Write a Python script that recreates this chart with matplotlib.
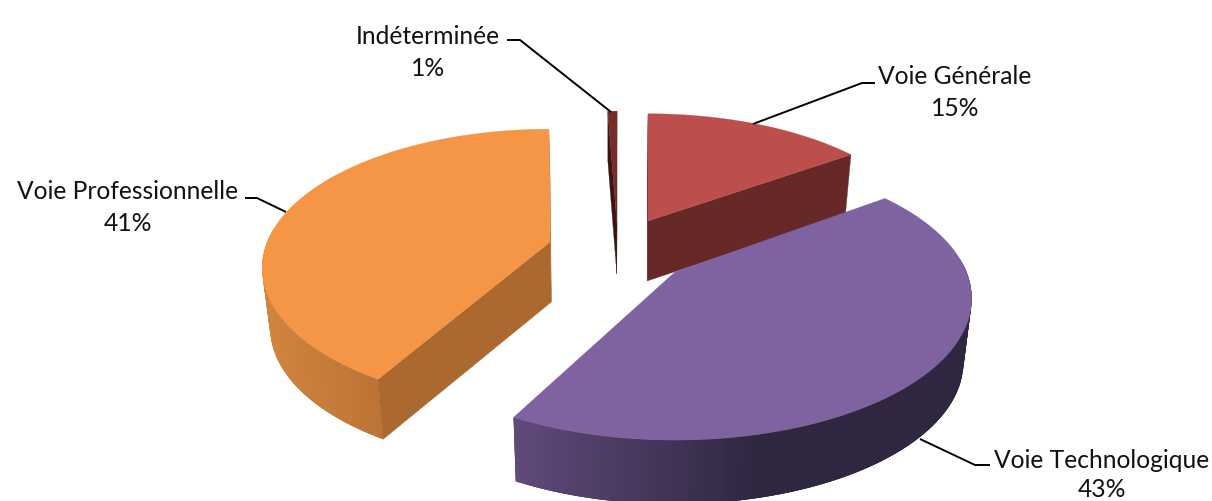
import numpy as np
import matplotlib
matplotlib.use("Agg")
import matplotlib.pyplot as plt
from matplotlib.colors import to_rgb
from matplotlib.patches import Polygon

# --- data -------------------------------------------------------------
categories = ["Voie Générale", "Voie Technologique", "Voie Professionnelle", "Indéterminée"]
shares = [15.2, 43.0, 41.2, 0.6]
percent_labels = ["15%", "43%", "41%", "1%"]

# --- style / layout ---------------------------------------------------
top_colors = ["#BC4F4B", "#7F62A0", "#F49645", "#782C2A"]
cut_colors = ["#662928", "#32273F", "#AB692F", "#3A1514"]
side_light = ["#662928", "#604A7B", "#D0863F", "#3A1514"]
side_dark = ["#662928", "#2F2640", "#BC7235", "#3A1514"]
side_range = [(0, 1), (513, 760), (262, 383), (0, 1)]
apexes = [(648, 222), (675, 273), (550, 243), (617, 225)]
scale_x = [0.95, 1.005, 0.975, 1.0]
scale_y = [0.95, 1.02, 1.0, 1.0]
depths = [60, 64, 60, 50]
angle_nudge = [(0, 0), (-1.5, -2.0), (1.2, 1.9), (0, 0)]
show_cut = [(True, True), (False, False), (True, True), (True, True)]
label_xy = [(955, 77), (1102, 461), (128, 192), (428, 36)]
label_gaps = [32, 29, 32, 32]
leaders = [
    [(753, 125), (862, 84), (875, 84)],
    [(920, 440), (975, 466), (990, 466)],
    [(286, 213), (257, 199), (245, 199)],
    [(611, 113), (520, 41), (507, 41)],
]
RX, RY, PERSP, VANISH_X, SHRINK = 290, 134, 0.187, 610, 0.977

fig = plt.figure(figsize=(12.12, 5.02), dpi=100)
ax = fig.add_axes([0, 0, 1, 1])
ax.set_xlim(0, 1212)
ax.set_ylim(502, 0)
ax.axis("off")


def project(apex, theta, sx, sy):
    """Perspective projection of the rim point at clockwise angle theta."""
    w = 1 + PERSP * np.cos(theta)
    return apex[0] + sx * RX * np.sin(theta) / w, apex[1] - sy * RY * np.cos(theta) / w


def lower(x, y, depth):
    return VANISH_X + (np.asarray(x) - VANISH_X) * SHRINK, np.asarray(y) + depth


def poly(xs, ys, color, z, lw=0.0):
    ax.add_patch(Polygon(np.column_stack([xs, ys]), closed=True, facecolor=color,
                         edgecolor=color, linewidth=lw, zorder=z))


edges = 2 * np.pi * np.concatenate([[0], np.cumsum(shares)]) / np.sum(shares)
order = [3, 0, 2, 1]
for z, i in enumerate(order):
    base = z * 10
    apex = apexes[i]
    t0 = edges[i] + np.radians(angle_nudge[i][0])
    t1 = edges[i + 1] + np.radians(angle_nudge[i][1])
    t = np.linspace(t0, t1, 140)
    x, y = project(apex, t, scale_x[i], scale_y[i])
    xb, yb = lower(x, y, depths[i])
    # rim: each quad overlaps the next so no seams show
    lo, hi = side_range[i]
    c0, c1 = np.array(to_rgb(side_light[i])), np.array(to_rgb(side_dark[i]))
    idx = list(range(len(t) - 1))
    if x[0] < x[-1]:
        idx = idx[::-1]
    for k in idx:
        if np.cos(t[k]) > 0.1:
            continue
        e = min(k + 3, len(t) - 1) if x[0] > x[-1] else k + 1
        s = k if x[0] > x[-1] else max(k - 2, 0)
        f = np.clip((0.5 * (x[k] + x[k + 1]) - lo) / (hi - lo), 0, 1)
        poly([x[s], x[e], xb[e], xb[s]], [y[s], y[e], yb[e], yb[s]],
             c0 + (c1 - c0) * f, base)
    # cut faces
    axb, ayb = lower(apex[0], apex[1], depths[i])
    faces = [(x[0], y[0], xb[0], yb[0]), (x[-1], y[-1], xb[-1], yb[-1])]
    for show, (px, py, qx, qy) in zip(show_cut[i], faces):
        if show:
            poly([apex[0], px, qx, axb], [apex[1], py, qy, ayb], cut_colors[i], base + 1, lw=0.2)
    # top face
    poly(np.r_[apex[0], x], np.r_[apex[1], y], top_colors[i], base + 2, lw=0.2)

font = {"family": "Lato", "fontsize": 17.7, "color": "#111111", "ha": "center", "va": "center"}
for name, pct, (lx, ly), gap, pts in zip(categories, percent_labels, label_xy, label_gaps, leaders):
    ax.text(lx, ly, name, zorder=60, **font)
    ax.text(lx, ly + gap, pct, zorder=60, **font)
    px, py = zip(*pts)
    ax.plot(px, py, color="black", lw=1.4, zorder=50, solid_capstyle="butt")

fig.savefig("out.png", dpi=100, facecolor="white")
